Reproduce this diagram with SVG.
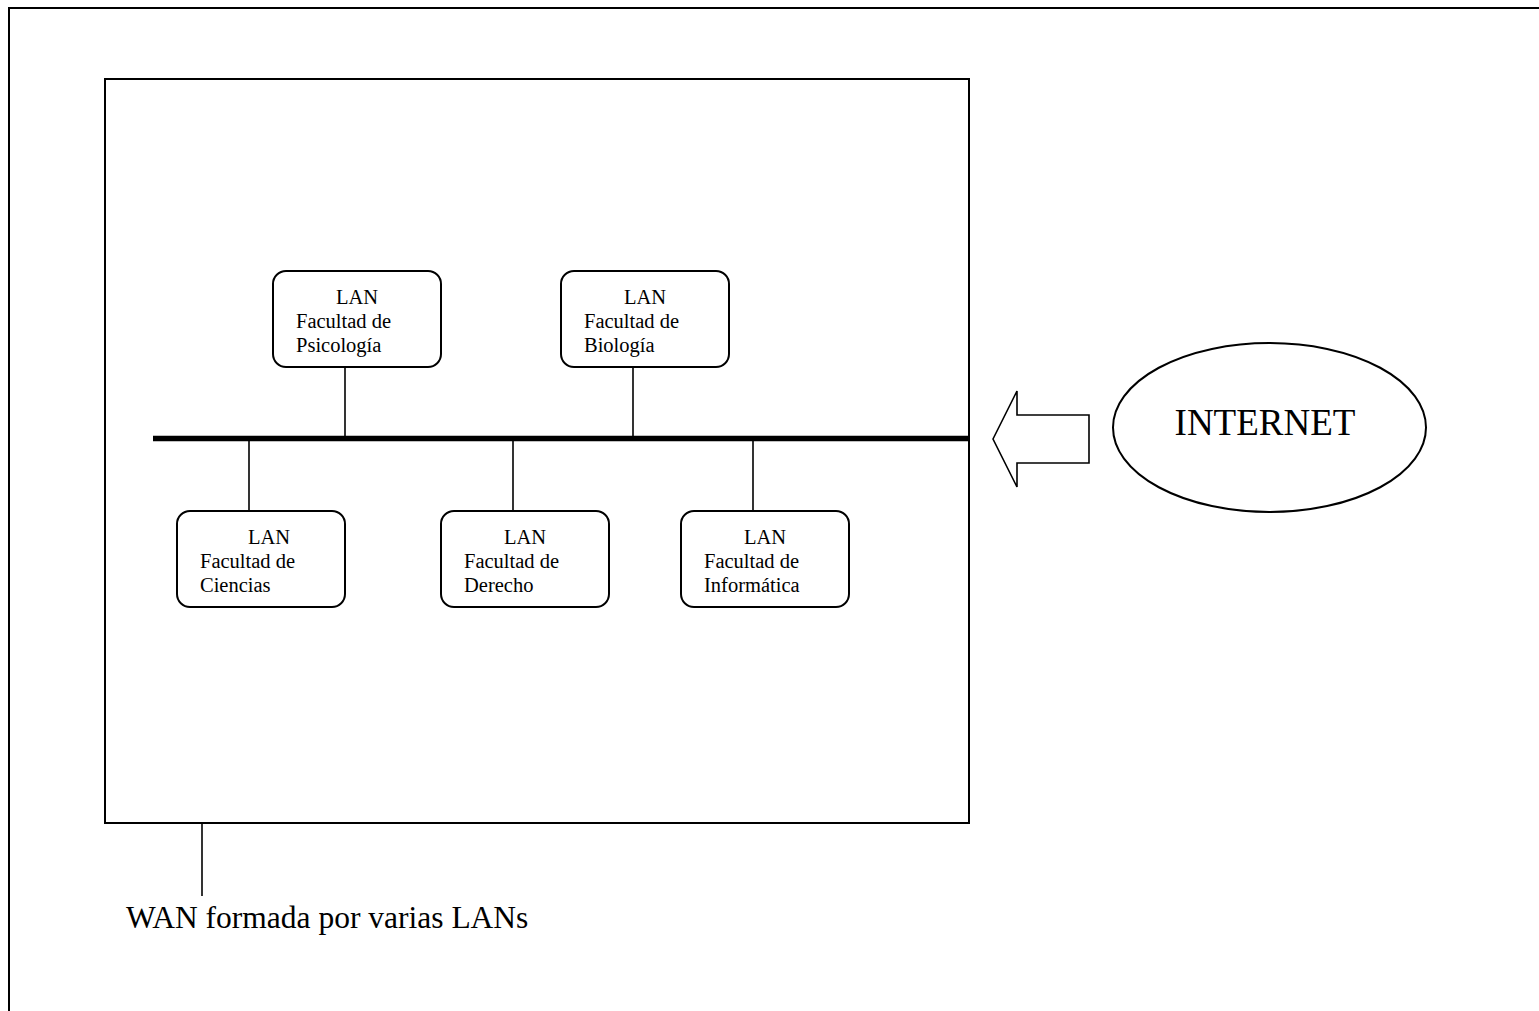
<svg xmlns="http://www.w3.org/2000/svg" width="1539" height="1011" viewBox="0 0 1539 1011">
<style>
.frame{fill:none;stroke:#000;stroke-width:2}
.box{fill:#fff;stroke:#000;stroke-width:2}
.link{stroke:#000;stroke-width:1.6;fill:none}
.bus{stroke:#000;stroke-width:5.5}
.t{font-family:"Liberation Serif","Times New Roman",serif;font-size:20.5px;fill:#000}
.c{text-anchor:middle}
</style>
<rect width="1539" height="1011" fill="#fff"/>
<path class="frame" d="M9 1011 V8 H1539"/>
<rect id="wan" class="frame" x="105" y="79" width="864" height="744"/>
<g id="connectors">
<line class="bus" x1="153" y1="438.5" x2="969" y2="438.5"/>
<line class="link" x1="345" y1="367" x2="345" y2="438"/>
<line class="link" x1="633" y1="367" x2="633" y2="438"/>
<line class="link" x1="249" y1="438" x2="249" y2="511"/>
<line class="link" x1="513" y1="438" x2="513" y2="511"/>
<line class="link" x1="753" y1="438" x2="753" y2="511"/>
<line class="link" x1="202" y1="823" x2="202" y2="896"/>
</g>
<g id="psicologia">
<rect class="box" x="273" y="271" width="168" height="96" rx="13"/>
<text class="t c" x="357" y="304">LAN</text>
<text class="t" x="296" y="328">Facultad de</text>
<text class="t" x="296" y="352">Psicología</text>
</g>
<g id="biologia">
<rect class="box" x="561" y="271" width="168" height="96" rx="13"/>
<text class="t c" x="645" y="304">LAN</text>
<text class="t" x="584" y="328">Facultad de</text>
<text class="t" x="584" y="352">Biología</text>
</g>
<g id="ciencias">
<rect class="box" x="177" y="511" width="168" height="96" rx="13"/>
<text class="t c" x="269" y="544">LAN</text>
<text class="t" x="200" y="568">Facultad de</text>
<text class="t" x="200" y="592">Ciencias</text>
</g>
<g id="derecho">
<rect class="box" x="441" y="511" width="168" height="96" rx="13"/>
<text class="t c" x="525" y="544">LAN</text>
<text class="t" x="464" y="568">Facultad de</text>
<text class="t" x="464" y="592">Derecho</text>
</g>
<g id="informatica">
<rect class="box" x="681" y="511" width="168" height="96" rx="13"/>
<text class="t c" x="765" y="544">LAN</text>
<text class="t" x="704" y="568">Facultad de</text>
<text class="t" x="704" y="592">Informática</text>
</g>
<g id="arrow">
<polygon points="993,439 1017,391 1017,415 1089,415 1089,463 1017,463 1017,487" fill="#fff" stroke="#000" stroke-width="1.6"/>
</g>
<g id="internet">
<ellipse cx="1269.5" cy="427.5" rx="156.5" ry="84.5" fill="#fff" stroke="#000" stroke-width="2"/>
<text class="t c" x="1265" y="435" style="font-size:37px">INTERNET</text>
</g>
<g id="wan-label">
<text class="t" x="126" y="928" style="font-size:31.5px">WAN formada por varias LANs</text>
</g>
</svg>
